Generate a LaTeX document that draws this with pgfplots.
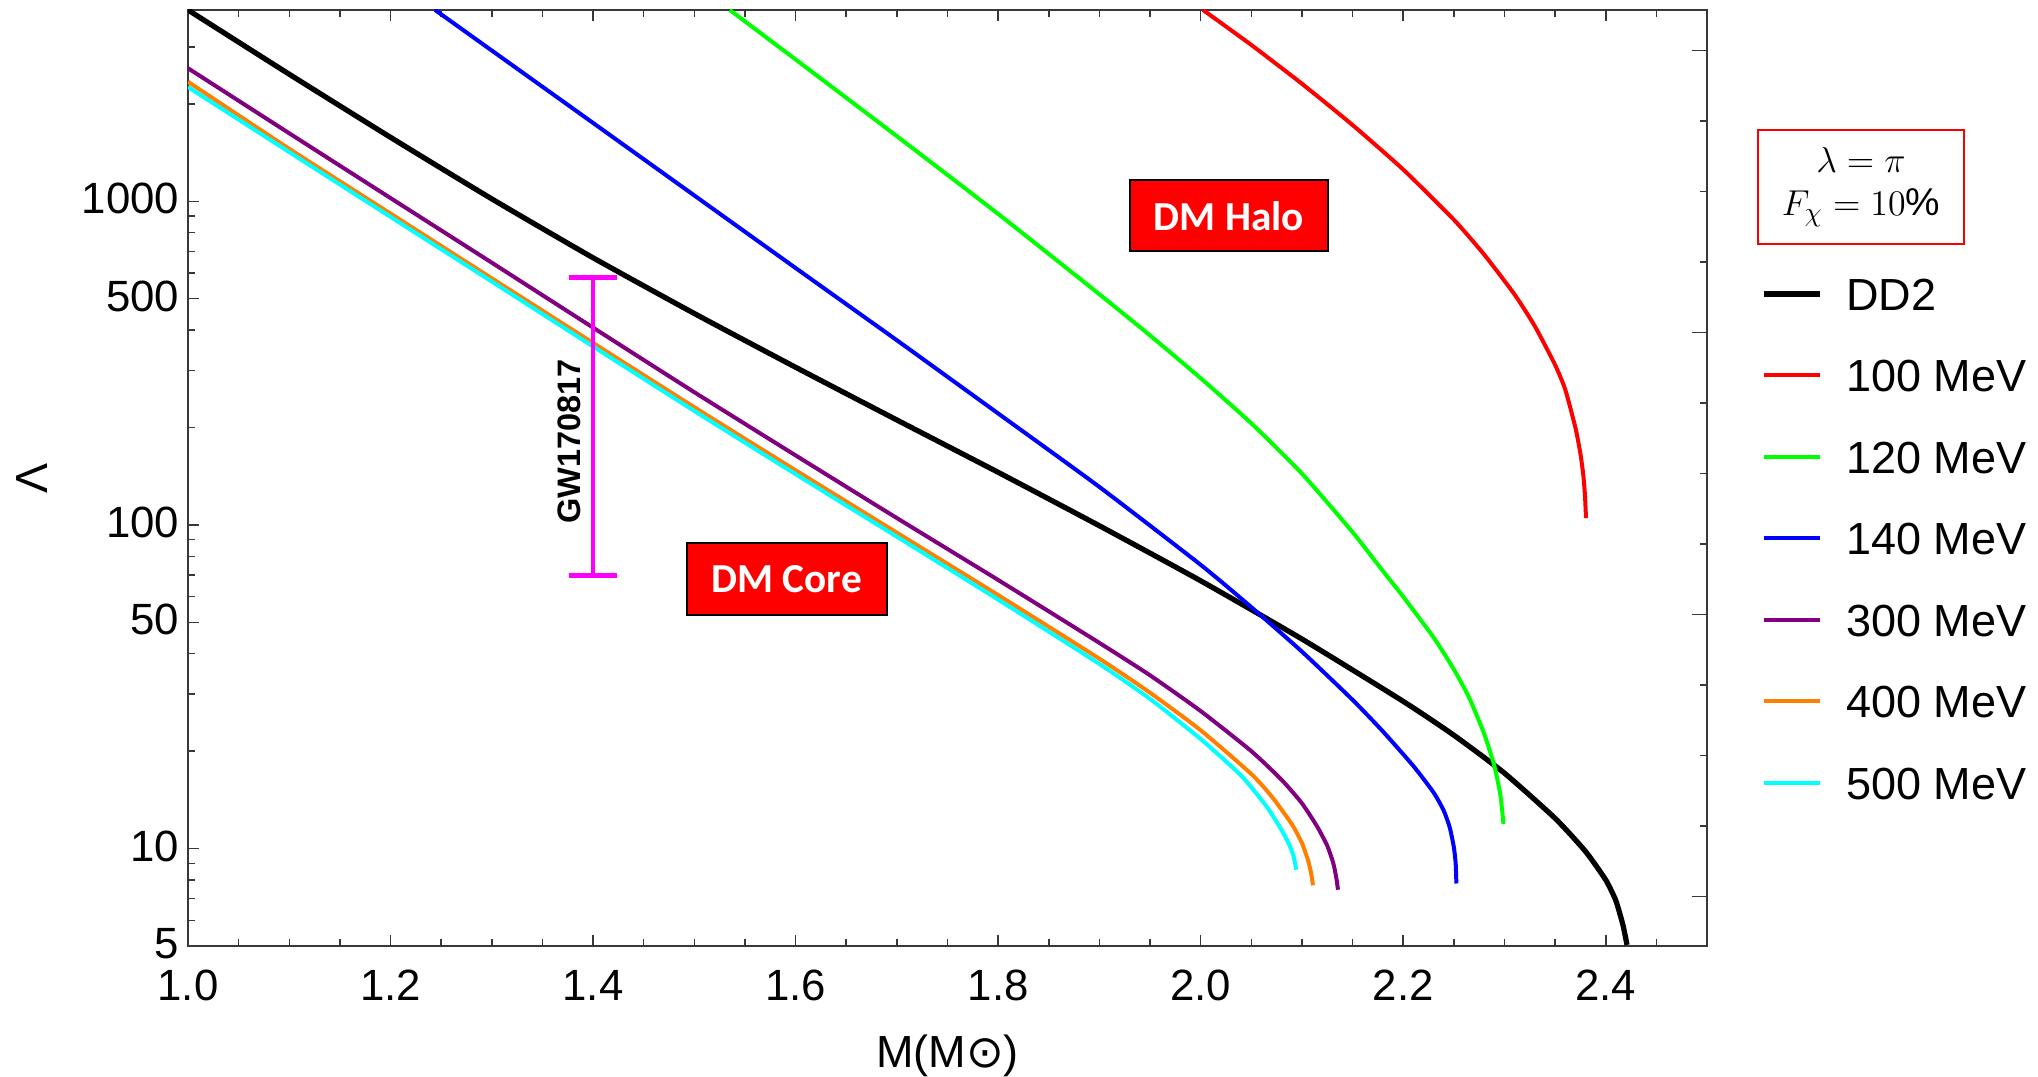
\documentclass[border=0pt]{standalone}
\usepackage{fontspec}
\setmainfont{Liberation Sans}
\newfontfamily\carlito{Carlito}
\newfontfamily\djv{DejaVu Sans}
\usepackage{pgfplots}
\pgfplotsset{compat=1.18}

\definecolor{orng}{rgb}{1,0.5,0}
\definecolor{prpl}{rgb}{0.5,0,0.5}
\definecolor{cyn}{rgb}{0,1,1}
\definecolor{mgnt}{rgb}{1,0,1}
\definecolor{grn}{rgb}{0,1,0}
\definecolor{rd}{rgb}{1,0,0}
\definecolor{blu}{rgb}{0,0,1}
\definecolor{framegray}{gray}{0.22}

\begin{document}
\begin{tikzpicture}
\useasboundingbox (-75.2pt,-52pt) rectangle (740pt,378.4pt);

% right-hand frame ticks (evenly spaced, as in the original frame)
\begin{axis}[
  at={(0pt,0pt)}, anchor=south west,
  scale only axis, width=607.6pt, height=374.4pt,
  xmin=0, xmax=1, ymin=0, ymax=1,
  hide x axis, axis y line*=right,
  axis line style={framegray, line width=0.6pt},
  ytick={0.0527,0.3540,0.6552,0.9565},
  minor ytick={0.1280,0.2033,0.2786,0.4293,0.5046,0.5799,0.7306,0.8059,0.8812},
  yticklabels={},
  tick align=inside,
  major tick length=6pt, minor tick length=2.7pt,
  tick style={framegray, line width=0.6pt},
]
\end{axis}

\begin{axis}[
  at={(0pt,0pt)}, anchor=south west,
  scale only axis, width=607.6pt, height=374.4pt,
  xmin=1, xmax=2.5,
  ymode=log, ymin=5, ymax=3900,
  xtick={1,1.2,1.4,1.6,1.8,2,2.2,2.4},
  xticklabels={1.0,1.2,1.4,1.6,1.8,2.0,2.2,2.4},
  minor xtick={1.05,1.1,1.15,1.25,1.3,1.35,1.45,1.5,1.55,1.65,1.7,1.75,1.85,1.9,1.95,2.05,2.1,2.15,2.25,2.3,2.35,2.45},
  ytick={5,10,50,100,500,1000},
  yticklabels={5,10,50,100,500,1000},
  minor ytick={6,7,8,9,20,30,40,60,70,80,90,200,300,400,600,700,800,900,2000,3000},
  ytick pos=left,
  tick align=inside,
  major tick length=4.5pt, minor tick length=2.7pt,
  tick style={framegray, line width=0.6pt},
  axis line style={framegray, line width=0.6pt},
  ticklabel style={font=\fontsize{17.5}{17.5}\selectfont},
  xticklabel style={yshift=-6.2pt},
  yticklabel style={yshift=1pt},
  xlabel={M(M{\djv ⊙})}, ylabel={Λ},
  label style={font=\fontsize{18}{18}\selectfont},
  xlabel style={at={(axis description cs:0.5,-0.117)}, anchor=center},
  ylabel style={at={(axis description cs:-0.1027,0.5)}, anchor=center},
  clip mode=individual,
  every axis plot/.append style={smooth, tension=0.35},
  legend style={at={(axis description cs:1.0356,0.714)}, anchor=north west,
    draw=none, fill=none, inner sep=0pt, outer sep=0pt,
    row sep=19.6pt, column sep=9.6pt,
    font=\fontsize{18}{18}\selectfont,
    nodes={inner sep=0pt, text height=13pt, text depth=0pt}},
  legend cell align=left,
  legend image code/.code={\draw[#1, sharp plot] (0pt,0pt) -- (22.4pt,0pt);},
]

\addplot[black, line width=2.1pt] coordinates {
 (1.0,3900)(1.1,2469)(1.2,1576)(1.3,1017)(1.4,669)(1.5,450)(1.6,307)(1.7,211)
 (1.8,145.4)(1.9,99.4)(2.0,67.2)(2.1,44.4)(2.2,28.5)(2.25,22.4)(2.3,17.1)
 (2.35,12.4)(2.38,9.8)(2.40,8.0)(2.41,6.9)(2.417,5.8)(2.421,5.04)};
\addlegendentry{DD2}

\addplot[rd, line width=1.6pt] coordinates {
 (2.0023,3900)(2.05,3041)(2.1,2307)(2.15,1720)(2.2,1253)(2.25,877)(2.28,684)
 (2.31,515)(2.33,411)(2.35,312)(2.36,262)(2.37,200)(2.375,166)(2.378,141)
 (2.3795,123)(2.3805,105)};
\addlegendentry{100 MeV}

\addplot[grn, line width=1.6pt] coordinates {
 (1.535,3900)(1.6,2742)(1.7,1589)(1.8,914)(1.9,516)(1.95,385)(2.0,284)(2.05,206)
 (2.1,144)(2.15,95)(2.18,72)(2.2,60)(2.23,44.9)(2.25,35.8)(2.265,29.3)
 (2.28,22.6)(2.29,18)(2.296,14.6)(2.299,11.9)};
\addlegendentry{120 MeV}

\addplot[blu, line width=1.6pt] coordinates {
 (1.244,3900)(1.3,2922)(1.4,1746)(1.5,1042)(1.6,622)(1.7,372)(1.8,221)(1.9,131)
 (2.0,75.3)(2.05,55.7)(2.1,40.6)(2.15,28.8)(2.18,23.0)(2.21,18.0)(2.23,14.9)
 (2.24,13.1)(2.246,11.6)(2.25,10.1)(2.2518,9.0)(2.2525,7.8)};
\addlegendentry{140 MeV}

\addplot[prpl, line width=1.6pt] coordinates {
 (1.0,2577)(1.1,1622)(1.2,1023)(1.3,646)(1.4,407)(1.5,257)(1.6,164)(1.7,105)
 (1.8,67.6)(1.9,43.2)(1.95,34.3)(2.0,26.6)(2.05,20)(2.08,16.3)(2.1,13.8)
 (2.115,11.7)(2.125,10.2)(2.131,9.0)(2.134,8.1)(2.1356,7.46)};
\addlegendentry{300 MeV}

\addplot[orng, line width=1.6pt] coordinates {
 (1.0,2340)(1.1,1452)(1.2,916)(1.3,578)(1.4,365)(1.5,231)(1.6,147.5)(1.7,94.6)
 (1.8,60.7)(1.9,38.6)(1.95,30.3)(2.0,23.2)(2.05,17.0)(2.07,14.5)(2.09,11.9)
 (2.1,10.4)(2.106,9.2)(2.109,8.4)(2.1109,7.7)};
\addlegendentry{400 MeV}

\addplot[cyn, line width=1.6pt] coordinates {
 (1.0,2254)(1.1,1419)(1.2,895)(1.3,565)(1.4,356)(1.5,225)(1.6,143.5)(1.7,92)
 (1.8,58.8)(1.9,37.2)(1.95,29)(2.0,21.8)(2.04,16.8)(2.065,13.5)(2.08,11.4)
 (2.088,10.2)(2.092,9.4)(2.0944,8.6)};
\addlegendentry{500 MeV}

% GW170817 bound on Lambda(1.4)
\addplot[mgnt, line width=1.3pt, forget plot, mark=none, sharp plot,
  error bars/.cd, y dir=both, y explicit,
  error bar style={mgnt, line width=1.3pt},
  error mark options={rotate=90, mgnt, line width=2pt, mark size=9.6pt}]
  coordinates {(1.4,190) += (0,390) -= (0,120)};

\node[rotate=90, font=\bfseries\fontsize{13}{13}\selectfont] at (axis cs:1.377,181) {GW170817};

\node[fill=rd, draw=black, line width=0.8pt, minimum width=80pt, minimum height=28.6pt,
  inner sep=0pt, text=white, font=\carlito\bfseries\fontsize{16.5}{16.5}\selectfont]
  at (axis cs:1.5913,68) {DM Core};
\node[fill=rd, draw=black, line width=0.8pt, minimum width=79.2pt, minimum height=28.4pt,
  inner sep=0pt, text=white, font=\carlito\bfseries\fontsize{16.5}{16.5}\selectfont]
  at (axis cs:2.028,901) {DM Halo};

\node[draw=rd, line width=0.6pt, minimum width=82.4pt, minimum height=45.6pt,
  inner sep=0pt, align=center, font=\fontsize{15.5}{17.2}\selectfont]
  at (axis description cs:1.1014,0.8109) {$\lambda=\pi$\\$F_\chi=10\%$};

\end{axis}
\end{tikzpicture}
\end{document}
